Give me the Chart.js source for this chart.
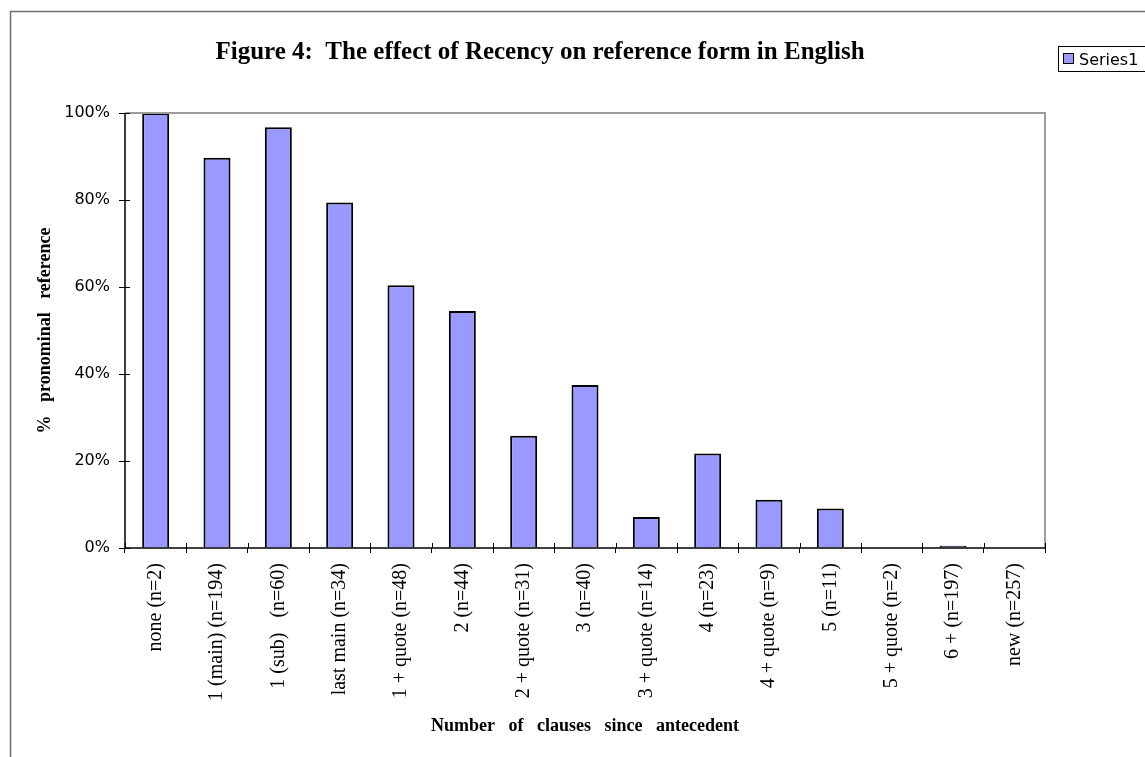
<!DOCTYPE html>
<html>
<head>
<meta charset="utf-8">
<script src="https://cdn.jsdelivr.net/npm/chart.js@4/dist/chart.umd.min.js"></script>
<style>
  html, body { margin: 0; padding: 0; background: #fff; overflow: hidden; }
  canvas { display: block; }
</style>
</head>
<body>
<canvas id="recencyChart" width="1145" height="757"></canvas>
<script>
'use strict';
// categories (x axis) and % pronominal reference per category
var categories = ['none (n=2)', '1 (main) (n=194)', '1 (sub)   (n=60)', 'last main (n=34)', '1 + quote (n=48)',
                  '2 (n=44)', '2 + quote (n=31)', '3 (n=40)', '3 + quote (n=14)', '4 (n=23)',
                  '4 + quote (n=9)', '5 (n=11)', '5 + quote (n=2)', '6 + (n=197)', 'new (n=257)'];
var series1 = [100, 89.7, 96.7, 79.4, 60.4, 54.5, 25.8, 37.5, 7.1, 21.7, 11.1, 9.1, 0, 0.5, 0];
var yTicks = [0, 20, 40, 60, 80, 100];
var seriesName = 'Series1';

var barColor = '#9999ff';

// frame, plot border, inner tick halves, legend box
var decorations = {
    id: 'decorations',
    beforeDraw: function(chart){
        var ctx = chart.ctx;
        ctx.save();
        ctx.strokeStyle = '#6e6e6e';
        ctx.lineWidth = 1.5;
        ctx.strokeRect(10.5, 11.5, 1200, 900);
        ctx.restore();
    },
    afterDatasetsDraw: function(chart){
        var ctx = chart.ctx;
        var a = chart.chartArea;
        var xs = chart.scales.x, ys = chart.scales.y;
        ctx.save();
        // gray top / right edges of the plot area
        ctx.strokeStyle = '#9c9c9c';
        ctx.lineWidth = 2;
        ctx.beginPath();
        ctx.moveTo(a.left, a.top);
        ctx.lineTo(a.right, a.top);
        ctx.lineTo(a.right, a.bottom);
        ctx.stroke();
        // tick marks crossing into the plot
        ctx.strokeStyle = '#000';
        ctx.lineWidth = 1;
        ctx.beginPath();
        yTicks.forEach(function(v){
            var y = Math.round(ys.getPixelForValue(v)) + 0.5;
            ctx.moveTo(a.left, y);
            ctx.lineTo(a.left + 5, y);
        });
        for (var i = 0; i <= categories.length; i++) {
            var x = Math.round(xs.getPixelForValue(i - 0.5)) + 0.5;
            ctx.moveTo(x, a.bottom);
            ctx.lineTo(x, a.bottom - 5);
        }
        ctx.stroke();
        // axis lines on top
        ctx.lineWidth = 1.5;
        ctx.beginPath();
        ctx.moveTo(a.left, a.top);
        ctx.lineTo(a.left, a.bottom);
        ctx.lineTo(a.right, a.bottom);
        ctx.stroke();
        ctx.restore();
    },
    afterDraw: function(chart){
        var ctx = chart.ctx;
        ctx.save();
        ctx.fillStyle = '#fff';
        ctx.fillRect(1058, 46, 100, 25);
        ctx.strokeStyle = '#000';
        ctx.lineWidth = 1;
        ctx.strokeRect(1058.5, 46.5, 100, 25);
        ctx.fillStyle = barColor;
        ctx.fillRect(1063.5, 53.5, 10, 10);
        ctx.strokeRect(1063.5, 53.5, 10, 10);
        ctx.fillStyle = '#000';
        ctx.font = '16px "DejaVu Sans"';
        ctx.textBaseline = 'alphabetic';
        ctx.fillText(seriesName, 1079, 65);
        ctx.restore();
    }
};

var ctx = document.getElementById('recencyChart').getContext('2d');
var chart = new Chart(ctx, {
    type: 'bar',
    data: {
        labels: categories,
        datasets: [{
            label: seriesName,
            data: series1,
            backgroundColor: barColor,
            borderColor: '#000',
            borderWidth: 2,
            borderSkipped: 'start',
            barPercentage: 0.44,
            categoryPercentage: 1
        }]
    },
    options: {
        responsive: false,
        animation: false,
        layout: { padding: { left: 35, right: 100, top: 0, bottom: 20 } },
        plugins: {
            legend: { display: false },
            tooltip: { enabled: false },
            title: {
                display: true,
                text: 'Figure 4:  The effect of Recency on reference form in English',
                color: '#000',
                font: { family: '"Liberation Serif"', size: 25, weight: 'bold', lineHeight: 1.2 },
                padding: { top: 38, bottom: 45 }
            }
        },
        scales: {
            x: {
                offset: true,
                grid: { display: true, drawOnChartArea: false, offset: true, color: '#000', tickLength: 5 },
                border: { display: false },
                ticks: {
                    color: '#000',
                    autoSkip: false,
                    minRotation: 90,
                    maxRotation: 90,
                    padding: 10,
                    font: { family: '"Liberation Serif"', size: 20 }
                },
                title: {
                    display: true,
                    text: 'Number   of   clauses   since   antecedent',
                    color: '#000',
                    padding: 0,
                    font: { family: '"Liberation Serif"', size: 18, weight: 'bold', lineHeight: 1.2 }
                },
                afterFit: function(scale){ scale.height = 189; }
            },
            y: {
                min: 0,
                max: 100,
                grid: { display: true, drawOnChartArea: false, color: '#000', tickLength: 6 },
                border: { display: false },
                ticks: {
                    stepSize: 20,
                    color: '#000',
                    padding: 9,
                    font: { family: '"DejaVu Sans"', size: 16 },
                    callback: function(v){ return v + '%'; }
                },
                title: {
                    display: true,
                    text: '%   pronominal   reference',
                    color: '#000',
                    padding: 0,
                    font: { family: '"Liberation Serif"', size: 18, weight: 'bold', lineHeight: 1.2 }
                },
                afterFit: function(scale){ scale.width = 90; }
            }
        }
    },
    plugins: [decorations]
});
</script>
</body>
</html>
